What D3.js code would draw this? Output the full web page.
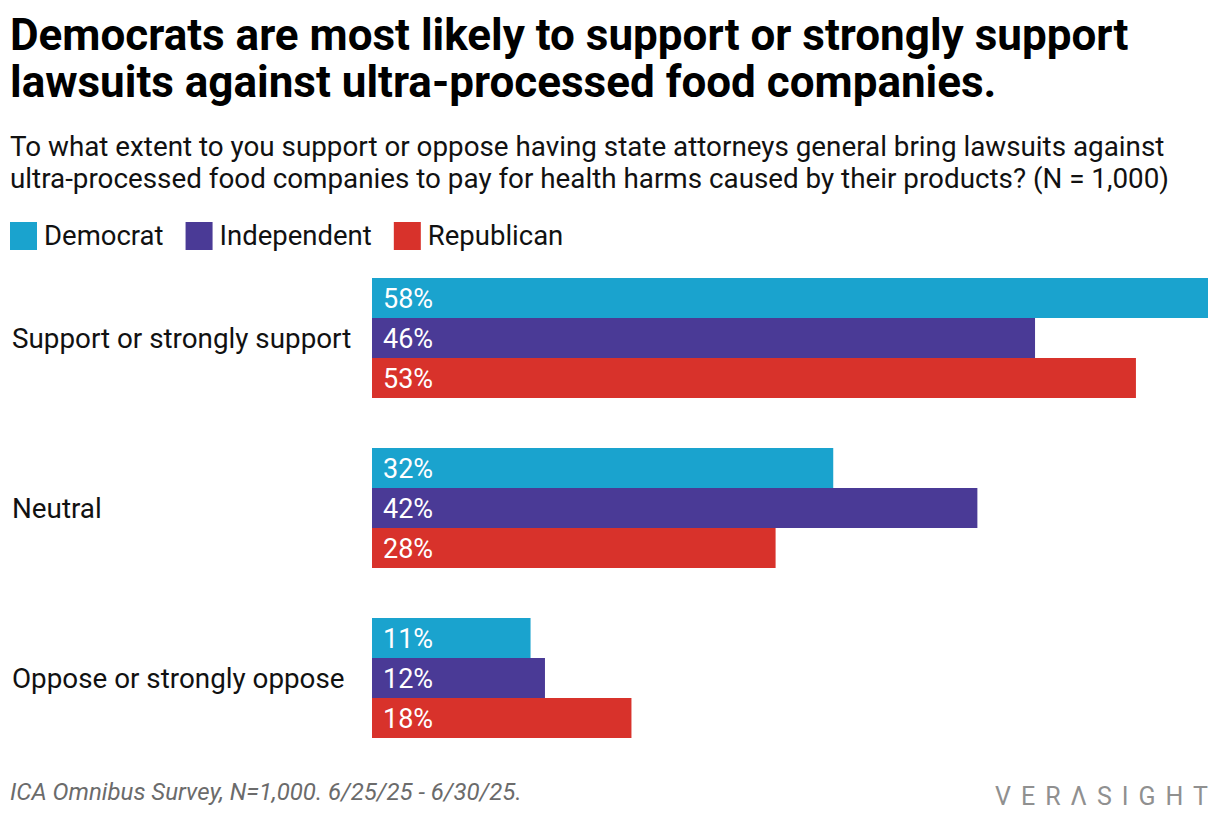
<!DOCTYPE html>
<html><head><meta charset="utf-8">
<script src="https://cdn.jsdelivr.net/npm/d3@7"></script>
<style>
html,body{margin:0;padding:0;background:#fff;}
svg{display:block;font-family:Roboto,"Noto Sans",sans-serif;}
</style></head>
<body>
<svg id="chart" width="1220" height="830"></svg>
<script>
const categories = ["Support or strongly support", "Neutral", "Oppose or strongly oppose"];
const seriesNames = ["Democrat", "Independent", "Republican"];
const democrat = [58, 32, 11];
const independent = [46, 42, 12];
const republican = [53, 28, 18];
const colors = ["#1aa3ce", "#4a3a96", "#d8322b"];
const titleLines = ["Democrats are most likely to support or strongly support", "lawsuits against ultra-processed food companies."];
const subtitleLines = ["To what extent to you support or oppose having state attorneys general bring lawsuits against", "ultra-processed food companies to pay for health harms caused by their products? (N = 1,000)"];
const footer = "ICA Omnibus Survey, N=1,000. 6/25/25 - 6/30/25.";

const values = [democrat, independent, republican];
const svg = d3.select("#chart");

svg.selectAll("text.title").data(titleLines).join("text")
  .attr("class","title").attr("x",10).attr("y",(d,i)=>50+i*47)
  .attr("font-size",44).attr("font-weight",700).attr("fill","#000").text(d=>d);

svg.selectAll("text.sub").data(subtitleLines).join("text")
  .attr("class","sub").attr("x",10).attr("y",(d,i)=>156+i*32)
  .attr("font-size",27.8).attr("fill","#111").text(d=>d);

// legend
const leg = svg.append("g").attr("transform","translate(10,222)");
let lx = 0;
seriesNames.forEach((n,i)=>{
  const g = leg.append("g").attr("transform",`translate(${lx},0)`);
  g.append("rect").attr("width",27).attr("height",28).attr("fill",colors[i]);
  const t = g.append("text").attr("x",34).attr("y",23).attr("font-size",27.5).attr("fill","#111").text(n);
  lx += 34 + t.node().getComputedTextLength() + 22;
});

const x = d3.scaleLinear().domain([0,58]).range([372,1208]);
const y0 = d3.scaleBand().domain(categories).range([278, 738]).paddingInner(50/170).paddingOuter(0);
const y1 = d3.scaleBand().domain(seriesNames).range([0, y0.bandwidth()]);

const groups = svg.selectAll("g.cat").data(categories).join("g")
  .attr("class","cat").attr("transform",d=>`translate(0,${y0(d)})`);

groups.append("text").attr("x",12).attr("y",y0.bandwidth()/2+10)
  .attr("font-size",27.8).attr("fill","#111").text(d=>d);

groups.each(function(c,ci){
  const g = d3.select(this);
  seriesNames.forEach((s,si)=>{
    const v = values[si][ci];
    g.append("rect").attr("x",x(0)).attr("y",y1(s)).attr("width",x(v)-x(0)).attr("height",y1.bandwidth()).attr("fill",colors[si]);
    g.append("text").attr("x",x(0)+11).attr("y",y1(s)+y1.bandwidth()/2+9.5)
      .attr("font-size",27).attr("fill","#fff").text(v+"%");
  });
});

svg.append("text").attr("x",10).attr("y",800).attr("font-size",24).attr("font-style","italic")
  .attr("fill","#6b6b6b").text(footer);

svg.append("text").attr("x",995).attr("y",805)
  .attr("font-size",25).attr("textLength",213).attr("lengthAdjust","spacing")
  .attr("fill","#909090").text("VER\u039BSIGHT");
</script>
</body></html>
